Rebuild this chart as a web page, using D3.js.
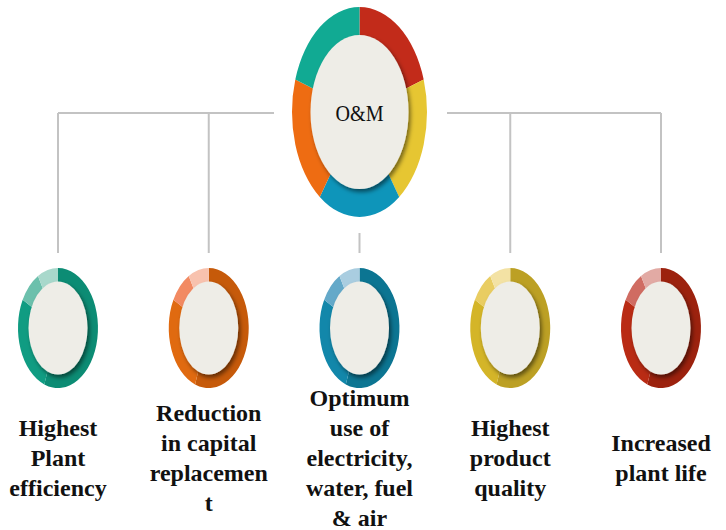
<!DOCTYPE html>
<html>
<head>
<meta charset="utf-8">
<script src="https://cdn.jsdelivr.net/npm/d3@7"></script>
<style>
  html, body { margin: 0; padding: 0; background: #ffffff; }
  svg { display: block; }
</style>
</head>
<body>
<svg id="chart" width="726" height="530"></svg>
<script>
// ---- data ----
const centerLabel = "O&M";
const centerSegments = [1, 1, 1, 1, 1];
const centerColors = ["#C22B1A", "#E6C632", "#0E95BA", "#EE6C12", "#11AA93"];

const childLabels = [
  ["Highest", "Plant", "efficiency"],
  ["Reduction", "in capital", "replacemen", "t"],
  ["Optimum", "use of", "electricity,", "water, fuel", "& air"],
  ["Highest", "product", "quality"],
  ["Increased", "plant life"]
];
const childIds = ["c1", "c2", "c3", "c4", "c5"];
// shade portions of each small ring (degrees, clockwise from top): dark, base, medium, light
const ringPortions = [200, 98, 32, 30];
const childShades = [
  ["#0C8C74", "#109C82", "#6CC0AC", "#A8D8CB"],
  ["#C65A0A", "#E06A10", "#F28A62", "#F8C2AE"],
  ["#0C7592", "#1287AA", "#64A9C9", "#A9CDE0"],
  ["#BCA024", "#D4B528", "#E9CD62", "#F3E2A4"],
  ["#9C220E", "#B92B14", "#D06C62", "#E2AAA4"]
];

// ---- drawing ----
(function () {
const svg = d3.select("#chart");
const defs = svg.append("defs");
const f = defs.append("filter").attr("id", "shadow")
  .attr("x", "-30%").attr("y", "-30%").attr("width", "160%").attr("height", "160%");
f.append("feDropShadow").attr("dx", 2).attr("dy", 3).attr("stdDeviation", 2.2)
  .attr("flood-color", "#000").attr("flood-opacity", 0.5);

const x = d3.scalePoint().domain(childIds).range([58, 661]);
const centerX = (x("c1") + x("c5")) / 2;
const lineY = 113, lineBottom = 253;
const lineColor = "#C3C3C3";

const lines = svg.append("g").attr("stroke", lineColor).attr("stroke-width", 2).attr("fill", "none");
lines.append("line").attr("x1", x("c1")).attr("x2", 274).attr("y1", lineY).attr("y2", lineY);
lines.append("line").attr("x1", 447).attr("x2", x("c5")).attr("y1", lineY).attr("y2", lineY);
childIds.forEach((id, i) => {
  const y1 = i === 2 ? 233 : lineY;
  lines.append("line").attr("x1", x(id)).attr("x2", x(id)).attr("y1", y1).attr("y2", lineBottom);
});

// center ring
const unitArc = d3.arc().innerRadius(0.55).outerRadius(1);
const pie = d3.pie().sort(null).value(d => d);

const hub = svg.append("g").attr("transform", `translate(${centerX},112)`);
hub.append("g").attr("transform", "scale(67.5,105)")
  .selectAll("path").data(pie(centerSegments)).join("path")
  .attr("d", unitArc).attr("fill", (d, i) => centerColors[i]);
hub.append("ellipse").attr("rx", 49).attr("ry", 77).attr("fill", "#EEEDE7")
  .attr("filter", "url(#shadow)");
hub.append("text").attr("y", 9).attr("text-anchor", "middle")
  .attr("font-family", "'Liberation Serif', serif").attr("font-size", 23)
  .attr("textLength", 48).attr("lengthAdjust", "spacingAndGlyphs")
  .attr("fill", "#111").text(centerLabel);

// child rings
childIds.forEach((id, i) => {
  const g = svg.append("g").attr("transform", `translate(${x(id)},328)`);
  g.append("g").attr("transform", "scale(40,60)")
    .selectAll("path").data(pie(ringPortions)).join("path")
    .attr("d", unitArc).attr("fill", (d, k) => childShades[i][k]);
  g.append("ellipse").attr("rx", 29.5).attr("ry", 46.5).attr("fill", "#EEEDE7")
    .attr("filter", "url(#shadow)");

  const lbl = childLabels[i];
  const n = lbl.length;
  const t = svg.append("text").attr("text-anchor", "middle")
    .attr("font-family", "'Liberation Serif', serif").attr("font-weight", "bold")
    .attr("font-size", 24).attr("fill", "#111");
  lbl.forEach((s, k) => {
    t.append("tspan").attr("x", x(id)).attr("y", 466 + (k - (n - 1) / 2) * 30).text(s);
  });
});
})();
</script>
</body>
</html>
